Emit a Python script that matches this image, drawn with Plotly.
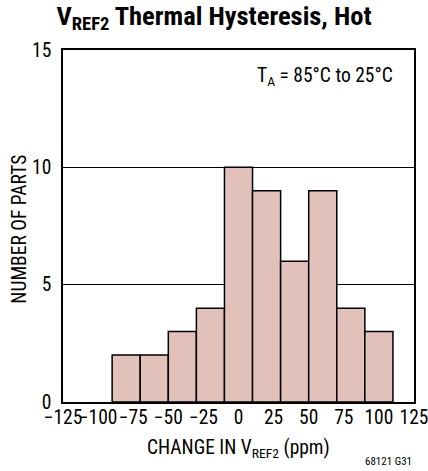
import plotly.graph_objects as go

bin_centers = [-80, -60, -40, -20, 0, 20, 40, 60, 80, 100]
counts = [2, 2, 3, 4, 10, 9, 6, 9, 4, 3]
bin_width = 20
x_ticks = [-125, -100, -75, -50, -25, 0, 25, 50, 75, 100, 125]
x_tick_labels = ["\u2212125", "\u2212100", "\u221275", "\u221250", "\u221225", "0", "25", "50", "75", "100", "125"]
y_ticks = [0, 5, 10, 15]

FONT = "Roboto Condensed, Liberation Sans Narrow, Arial Narrow, sans-serif"
FS = 19.5

fig = go.Figure()
fig.add_trace(go.Bar(
    x=bin_centers, y=counts, width=[bin_width] * len(bin_centers),
    marker=dict(color="#e3c1bb", line=dict(color="black", width=1.5)),
    showlegend=False,
))

fig.update_layout(
    width=428, height=471,
    margin=dict(l=63, r=14, t=50, b=69, autoexpand=False),
    paper_bgcolor="white", plot_bgcolor="white",
    font=dict(family=FONT, size=FS, color="black"),
    title=dict(text="<b>V<sub>REF2</sub> Thermal Hysteresis, Hot</b>",
               x=0.5, xanchor="center", yref="container", y=1 - 6 / 471, yanchor="top",
               font=dict(family=FONT, size=26.5, color="black")),
    xaxis=dict(range=[-125, 125], tickvals=x_ticks, ticktext=x_tick_labels,
               showgrid=False, showline=True, linecolor="black", linewidth=1.5,
               mirror=True, ticks="", zeroline=False, automargin=False,
               tickangle=0, ticklabelstandoff=-3, ticklabeloverflow="allow"),
    yaxis=dict(range=[0, 15], tickvals=y_ticks,
               showgrid=True, gridcolor="black", gridwidth=1,
               showline=True, linecolor="black", linewidth=1.5,
               mirror=True, ticks="", zeroline=False, automargin=False,
               ticklabelstandoff=6, ticklabeloverflow="allow"),
    annotations=[
        dict(text="T<sub>A</sub> = 85°C to 25°C", x=0.946, y=0.965,
             xref="paper", yref="paper", xanchor="right", yanchor="top",
             showarrow=False, font=dict(size=FS)),
        dict(text="CHANGE IN V<sub>REF2</sub> (ppm)", x=0.5, y=-0.09,
             xref="paper", yref="paper", xanchor="center", yanchor="top",
             showarrow=False, font=dict(size=FS)),
        dict(text="NUMBER OF PARTS", x=-0.125, y=0.49, textangle=-90,
             xref="paper", yref="paper", xanchor="center", yanchor="middle",
             showarrow=False, font=dict(size=FS)),
        dict(text="68121 G31", x=1.0, y=-0.17,
             xref="paper", yref="paper", xanchor="right", yanchor="middle",
             showarrow=False, font=dict(size=11)),
    ],
)

fig.write_html("out.html", config={"displayModeBar": False},
               post_script="document.body.style.margin='0px';document.body.style.overflow='hidden';")
